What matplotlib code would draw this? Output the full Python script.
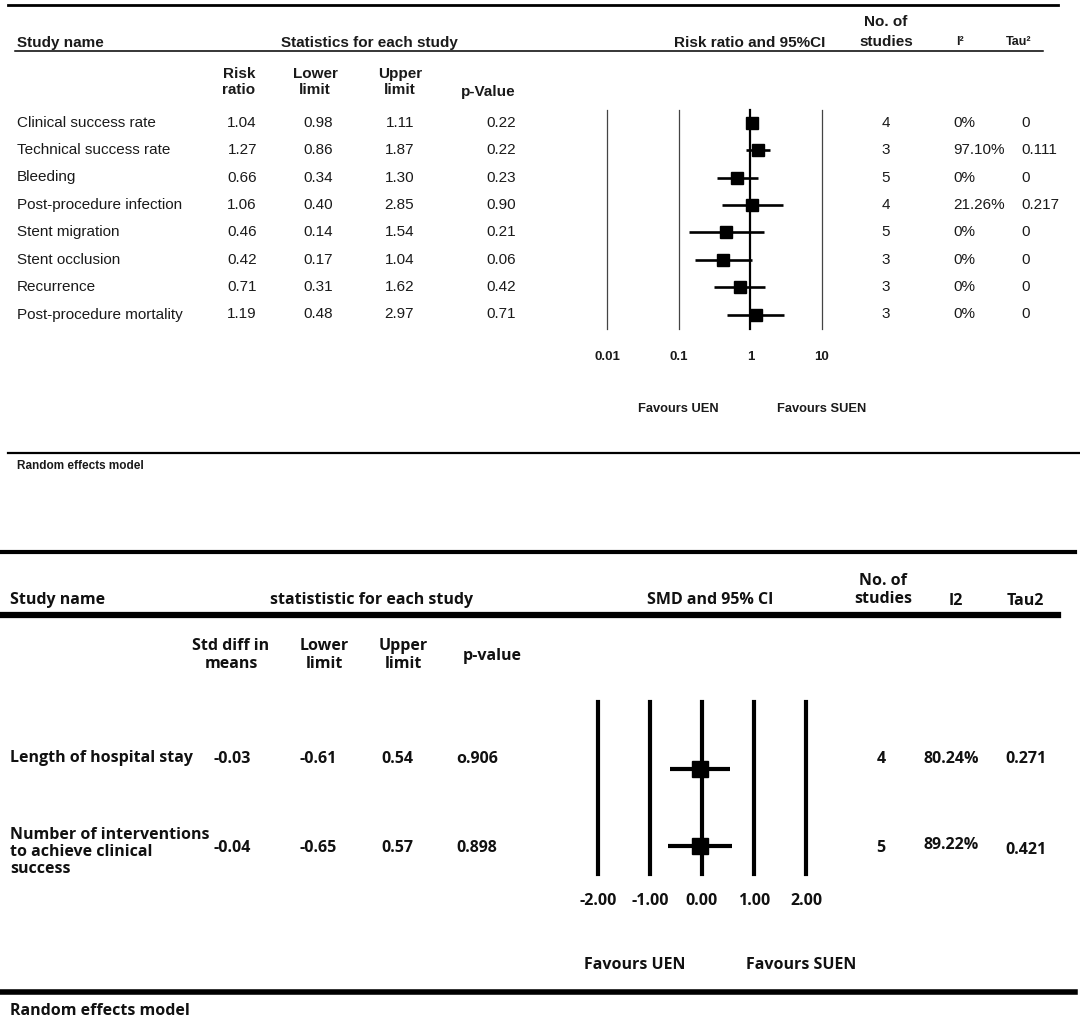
import numpy as np
import matplotlib
matplotlib.use('Agg')
import matplotlib.pyplot as plt

# ---- top panel data (risk ratios) ----
rr_names = ['Clinical success rate', 'Technical success rate', 'Bleeding',
            'Post-procedure infection', 'Stent migration', 'Stent occlusion',
            'Recurrence', 'Post-procedure mortality']
rr = [1.04, 1.27, 0.66, 1.06, 0.46, 0.42, 0.71, 1.19]
rr_low = [0.98, 0.86, 0.34, 0.40, 0.14, 0.17, 0.31, 0.48]
rr_up = [1.11, 1.87, 1.30, 2.85, 1.54, 1.04, 1.62, 2.97]
rr_p = ['0.22', '0.22', '0.23', '0.90', '0.21', '0.06', '0.42', '0.71']
rr_n = [4, 3, 5, 4, 5, 3, 3, 3]
rr_i2 = ['0%', '97.10%', '0%', '21.26%', '0%', '0%', '0%', '0%']
rr_tau2 = ['0', '0.111', '0', '0.217', '0', '0', '0', '0']
rr_ticks = [0.01, 0.1, 1, 10]
rr_ticklabels = ['0.01', '0.1', '1', '10']

# ---- bottom panel data (SMD) ----
smd_names = ['Length of hospital stay', 'Number of interventions\nto achieve clinical\nsuccess']
smd = [-0.03, -0.04]
smd_low = [-0.61, -0.65]
smd_up = [0.54, 0.57]
smd_p = ['o.906', '0.898']
smd_n = [4, 5]
smd_i2 = ['80.24%', '89.22%']
smd_tau2 = ['0.271', '0.421']
smd_ticks = [-2, -1, 0, 1, 2]
smd_ticklabels = ['-2.00', '-1.00', '0.00', '1.00', '2.00']

W, H = 1080, 1036
fig = plt.figure(figsize=(W / 100, H / 100), dpi=100)
bg = fig.add_axes([0, 0, 1, 1])
bg.set_xlim(0, W)
bg.set_ylim(H, 0)
bg.axis('off')


def px_axes(x0, x1, y0, y1):
    # axes placed by pixel box (y measured from top)
    ax = fig.add_axes([x0 / W, 1 - y1 / H, (x1 - x0) / W, (y1 - y0) / H])
    ax.patch.set_alpha(0)
    ax.axis('off')
    return ax


TF = 'Liberation Sans'
tkw = dict(family=TF, fontsize=11, color='#1a1a1a')
tbold = dict(tkw, weight='bold')

# ================= top panel =================
bg.plot([8, 1058], [5, 5], color='black', lw=2)
bg.plot([15, 1043], [51, 51], color='black', lw=1.1)
bg.plot([8, 1080], [453, 453], color='black', lw=1.6)

bg.text(17, 43, 'Study name', ha='left', va='center', **tbold)
bg.text(369, 43, 'Statistics for each study', ha='center', va='center', **tbold)
bg.text(750, 43, 'Risk ratio and 95%CI', ha='center', va='center', **tbold)
bg.text(886, 22, 'No. of', ha='center', va='center', **tbold)
bg.text(886, 42, 'studies', ha='center', va='center', **tbold)
bg.text(960, 42, 'I²', ha='center', va='center', **dict(tbold, fontsize=9))
bg.text(1019, 42, 'Tau²', ha='center', va='center', **dict(tbold, fontsize=9))

for x, lab in zip([239, 315, 400], ['Risk\nratio', 'Lower\nlimit', 'Upper\nlimit']):
    bg.text(x, 82, lab, ha='center', va='center', linespacing=1.2, **tbold)
bg.text(488, 92, 'p-Value', ha='center', va='center', **tbold)

row0, dy = 122.7, 27.4
for i in range(len(rr_names)):
    y = row0 + i * dy
    bg.text(17, y, rr_names[i], ha='left', va='center', **tkw)
    bg.text(257, y, '%.2f' % rr[i], ha='right', va='center', **tkw)
    bg.text(333, y, '%.2f' % rr_low[i], ha='right', va='center', **tkw)
    bg.text(414, y, '%.2f' % rr_up[i], ha='right', va='center', **tkw)
    bg.text(516, y, rr_p[i], ha='right', va='center', **tkw)
    bg.text(886, y, str(rr_n[i]), ha='center', va='center', **tkw)
    bg.text(953, y, rr_i2[i], ha='left', va='center', **tkw)
    bg.text(1021, y, rr_tau2[i], ha='left', va='center', **tkw)

bg.text(17, 466, 'Random effects model', ha='left', va='center', **dict(tbold, fontsize=8.5))

# forest (log scale)
n1 = len(rr)
top, bot = 110, 329
ax1 = px_axes(607, 822, top, bot)
ax1.set_xscale('log')
ax1.set_xlim(0.01, 10)
ax1.set_ylim((bot - row0) / dy, (top - row0) / dy)
for t in rr_ticks:
    if t == 1:
        ax1.axvline(t, color='black', lw=1.6, clip_on=False)
    else:
        ax1.axvline(t, color='#444444', lw=0.9, clip_on=False)
yy = np.arange(n1)
ax1.hlines(yy, rr_low, rr_up, color='black', lw=1.9)
ax1.plot(rr, yy, 's', color='black', ms=8)
tick_y = (357 - row0) / dy
fav_y = (409 - row0) / dy
for t, lab in zip(rr_ticks, rr_ticklabels):
    ax1.text(t, tick_y, lab, ha='center', va='center', clip_on=False, **dict(tbold, fontsize=9.5))
ax1.text(0.1, fav_y, 'Favours UEN', ha='center', va='center', clip_on=False, **dict(tbold, fontsize=9.3))
ax1.text(10, fav_y, 'Favours SUEN', ha='center', va='center', clip_on=False, **dict(tbold, fontsize=9.3))

# ================= bottom panel =================
BF = 'Open Sans'
bkw = dict(family=BF, fontsize=11.5, weight='bold', color='#111111')

bg.plot([0, 1075], [552, 552], color='black', lw=3)
bg.plot([0, 1058], [615, 615], color='black', lw=4.5)
bg.plot([0, 1075], [992, 992], color='black', lw=4)

bg.text(10, 600, 'Study name', ha='left', va='center', **bkw)
bg.text(372, 600, 'statististic for each study', ha='center', va='center', **bkw)
bg.text(710, 600, 'SMD and 95% CI', ha='center', va='center', **bkw)
bg.text(883, 590, 'No. of\nstudies', ha='center', va='center', linespacing=1.15, **bkw)
bg.text(956, 601, 'I2', ha='center', va='center', **bkw)
bg.text(1025, 601, 'Tau2', ha='center', va='center', **bkw)

for x, lab in zip([231, 324, 403], ['Std diff in\nmeans', 'Lower\nlimit', 'Upper\nlimit']):
    bg.text(x, 655, lab, ha='center', va='center', linespacing=1.15, **bkw)
bg.text(492, 656, 'p-value', ha='center', va='center', **bkw)

srow0, sdy = 759, 89
for i in range(len(smd_names)):
    y = srow0 + i * sdy
    bg.text(10, y + (-1 if i == 0 else 4), smd_names[i], ha='left', va='center',
            linespacing=1.05, **bkw)
    bg.text(232, y, '%.2f' % smd[i], ha='center', va='center', **bkw)
    bg.text(318, y, '%.2f' % smd_low[i], ha='center', va='center', **bkw)
    bg.text(397, y, '%.2f' % smd_up[i], ha='center', va='center', **bkw)
    bg.text(477, y, smd_p[i], ha='center', va='center', **bkw)
    bg.text(881, y, str(smd_n[i]), ha='center', va='center', **bkw)
    bg.text(951, y - (3 if i else 0), smd_i2[i], ha='center', va='center', **bkw)
    bg.text(1026, y + (2 if i else 0), smd_tau2[i], ha='center', va='center', **bkw)

bg.text(10, 1011, 'Random effects model', ha='left', va='center', **bkw)

# forest (linear)
n2 = len(smd)
srow_f0, sdy_f = 769, 77
stop, sbot = 702, 874
ax2 = px_axes(598, 806, stop, sbot)
ax2.set_xlim(-2, 2)
ax2.set_ylim((sbot - srow_f0) / sdy_f, (stop - srow_f0) / sdy_f)
for t in smd_ticks:
    ax2.axvline(t, color='black', lw=3, clip_on=False)
yy2 = np.arange(n2)
ax2.hlines(yy2, smd_low, smd_up, color='black', lw=3)
ax2.plot(smd, yy2, 's', color='black', ms=11)
stick_y = (901 - srow_f0) / sdy_f
sfav_y = (965 - srow_f0) / sdy_f
for t, lab in zip(smd_ticks, smd_ticklabels):
    ax2.text(t, stick_y, lab, ha='center', va='center', clip_on=False, **bkw)
ax2.text(-1.3, sfav_y, 'Favours UEN', ha='center', va='center', clip_on=False, **bkw)
ax2.text(1.9, sfav_y, 'Favours SUEN', ha='center', va='center', clip_on=False, **bkw)

fig.savefig('out.png', dpi=100, facecolor='white')
